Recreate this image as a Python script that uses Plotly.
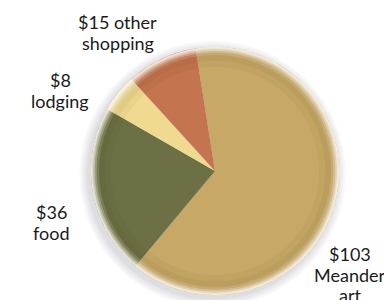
import plotly.graph_objects as go

categories = ["Meander art", "food", "lodging", "other shopping"]
values = [103, 36, 8, 15]
label_lines = [["$103", "Meander", "art"], ["$36", "food"], ["$8", "lodging"], ["$15 other", "shopping"]]
colors = ["#C7A866", "#6D7044", "#F0DA90", "#C4744E"]

W, H = 392, 300
OFF = 8  # page body margin offset
cx, cy, r = 215 - OFF, 171 - OFF, 124

def dom(rad, dx=0.0, dy=0.0):
    x0 = max(0.0, (cx + dx - rad) / W)
    x1 = min(1.0, (cx + dx + rad) / W)
    y0 = max(0.0, (H - cy - dy - rad) / H)
    y1 = min(1.0, (H - cy - dy + rad) / H)
    return dict(x=[x0, x1], y=[y0, y1])

def disc(rad, col, hole=0.0, dx=0.0, dy=0.0):
    return go.Pie(values=[1], hole=hole, marker=dict(colors=[col], line=dict(width=0)),
                  domain=dom(rad, dx, dy), textinfo="none", hoverinfo="skip",
                  showlegend=False, sort=False)

fig = go.Figure()
# soft shadow (down-left)
for k in [9, 7, 5, 3, 1.5]:
    fig.add_trace(disc(r + k, "rgba(110,122,135,0.05)", dx=-2.5, dy=3))

fig.add_trace(go.Pie(
    labels=categories, values=values, sort=False, direction="clockwise", rotation=-9,
    marker=dict(colors=colors, line=dict(width=0)), textinfo="none", showlegend=False,
    domain=dom(r),
))
# inner edge shading
for hole, col in [(0.84, "rgba(40,35,10,0.035)"), (0.89, "rgba(40,35,10,0.04)"),
                  (0.935, "rgba(255,250,240,0.15)"), (0.955, "rgba(255,250,240,0.25)"),
                  (0.97, "rgba(255,250,240,0.35)"), (0.983, "rgba(255,252,245,0.45)"),
                  (0.993, "rgba(255,253,248,0.5)")]:
    fig.add_trace(disc(r, col, hole=hole))

label_pos = [(350, 254), (51, 212), (60, 80), (118, 22)]
line_h = 20.5
for lines, (lx, ly) in zip(label_lines, label_pos):
    for i, t in enumerate(lines):
        fig.add_annotation(x=(lx - OFF) / W, y=1 - (ly - OFF + i * line_h) / H,
                           xref="paper", yref="paper",
                           text=t, showarrow=False, xanchor="center", yanchor="middle",
                           font=dict(family="Lato", size=18, color="#1a1a1a"))

fig.update_layout(width=W, height=H, margin=dict(l=0, r=0, t=0, b=0),
                  paper_bgcolor="white", plot_bgcolor="white")
fig.write_html("out.html")
